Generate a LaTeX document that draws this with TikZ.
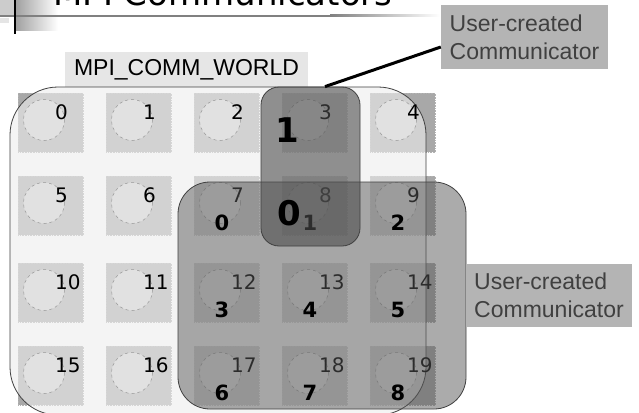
\documentclass[tikz,border=0pt]{standalone}
\usepackage{fontspec}
\setmainfont{Liberation Sans}
\newfontfamily\numfont{DejaVu Sans}
\usetikzlibrary{calc}
\definecolor{sqgray}{HTML}{A8A8A8}
\definecolor{worldfill}{HTML}{EEEEEE}
\definecolor{labfill}{HTML}{E6E6E6}
\definecolor{userfill}{HTML}{B4B4B4}
\definecolor{usertext}{HTML}{404040}
\definecolor{edge}{HTML}{404040}
\begin{document}
\begin{tikzpicture}[x=1pt,y=-1pt,
  sq/.style={fill=sqgray, draw=gray!60, densely dotted, line width=0.6pt,
    minimum width=65pt, minimum height=59pt, inner sep=0pt, anchor=north west},
  circ/.style={circle, draw=gray!80, dashed, line width=0.5pt, fill=white,
    fill opacity=0.35, minimum size=41pt, inner sep=0pt},
  plab/.style={anchor=west, inner sep=0pt, font=\numfont\fontsize{20}{24}\selectfont},
  rlab/.style={inner sep=0pt, font=\numfont\bfseries\fontsize{21}{25}\selectfont},
  biglab/.style={inner sep=0pt, font=\numfont\bfseries\fontsize{34}{38}\selectfont},
  worldbox/.style={draw=edge, line width=0.8pt, fill=worldfill, fill opacity=0.6,
    rounded corners=48pt, minimum width=416pt, minimum height=328pt, inner sep=0pt},
  commbig/.style={draw=edge, line width=0.8pt, fill=black!65, fill opacity=0.5,
    rounded corners=32pt, minimum width=288pt, minimum height=227pt, inner sep=0pt},
  commsmall/.style={draw=edge, line width=0.8pt, fill=black!70, fill opacity=0.6,
    rounded corners=18pt, minimum width=99pt, minimum height=159pt, inner sep=0pt},
  userbox/.style={fill=userfill, text=usertext, align=left, inner sep=0pt,
    font=\fontsize{23}{28}\selectfont},
  wlabel/.style={fill=labfill, inner sep=0pt, minimum width=243pt, minimum height=35pt,
    font=\fontsize{23}{27}\selectfont},
  conn/.style={line width=3pt, black}
]
\clip (0,0) rectangle (639,412);
\fill[white] (0,0) rectangle (639,412);
% title decoration
\fill[gray!40] (0,0) rectangle (15,16);
\shade[left color=gray!75, right color=white] (15,0) rectangle (58,31);
\fill[gray!20] (0,18) rectangle (9,23);
\fill[gray] (0,15) rectangle (330,17);
\shade[left color=gray, right color=white] (330,15) rectangle (440,17);
\draw[line width=2pt] (15,0) -- (15,34);
\node[anchor=base west, inner sep=0pt, font=\numfont\fontsize{34}{40}\selectfont] (title) at (53,6) {MPI Communicators};
% world label
\node[wlabel] (wl) at (186.5,69.5) {MPI\_COMM\_WORLD};
% process squares
\foreach \r/\ty in {0/93,1/176,2/263,3/346} {
  \foreach \c/\lx in {0/18,1/106,2/194,3/282,4/370} {
    \pgfmathtruncatemacro\n{\r*5+\c}
    \node[sq] (s\n) at (\lx,\ty) {};
  }
}
% MPI_COMM_WORLD region
\node[worldbox] (world) at (218,251) {};
% circles and process labels
\foreach \n in {0,...,19} {
  \node[circ] (k\n) at ($(s\n.north west)+(26,27)$) {};
  \node[plab] (l\n) at ($(s\n.north west)+(37,19)$) {\n};
}
% second communicator
\node[commbig] (c2) at (322,295.5) {};
\foreach \p/\k in {7/0,8/1,9/2,12/3,13/4,14/5,17/6,18/7,19/8} {
  \node[rlab] (rr\p) at ($(s\p.north west)+(28,47)$) {\k};
}
% first communicator
\node[commsmall] (c1) at (310.5,166.5) {};
\node[biglab] (b1) at (287,130) {1};
\node[biglab] (b0) at (289,213) {0};
% user-created labels
\node[userbox, minimum width=167pt, minimum height=64pt] (u1) at (524.5,37) {User-created\\Communicator};
\node[userbox, minimum width=166pt, minimum height=63pt] (u2) at (549,295.5) {User-created\\Communicator};
\draw[conn] ($(c1.north)+(14.5,0)$) -- ($(u1.west)+(0,10)$);
\end{tikzpicture}
\end{document}
